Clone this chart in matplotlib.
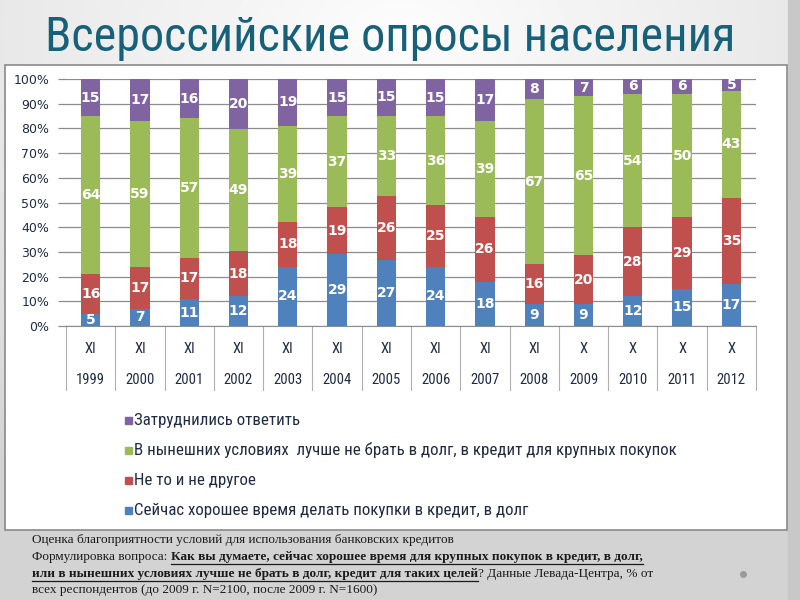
import matplotlib.pyplot as plt
import matplotlib.patches as patches
from matplotlib import font_manager
import numpy as np

years = ["1999", "2000", "2001", "2002", "2003", "2004", "2005",
         "2006", "2007", "2008", "2009", "2010", "2011", "2012"]
months = ["XI", "XI", "XI", "XI", "XI", "XI", "XI",
          "XI", "XI", "XI", "X", "X", "X", "X"]

good_time = [5, 7, 11, 12, 24, 29, 27, 24, 18, 9, 9, 12, 15, 17]
neither = [16, 17, 17, 18, 18, 19, 26, 25, 26, 16, 20, 28, 29, 35]
better_not = [64, 59, 57, 49, 39, 37, 33, 36, 39, 67, 65, 54, 50, 43]
hard_to_say = [15, 17, 16, 20, 19, 15, 15, 15, 17, 8, 7, 6, 6, 5]

series_names = [
    "Сейчас хорошее время делать покупки в кредит, в долг",
    "Не то и не другое",
    "В нынешних условиях  лучше не брать в долг, в кредит для крупных покупок",
    "Затруднились ответить",
]
colors = ["#4F81BD", "#C0504D", "#9BBB59", "#8064A2"]


def pick_narrow_font():
    # look for any condensed sans face; fall back to DejaVu Sans
    names = ["Liberation Sans Narrow", "Roboto Condensed", "DejaVu Sans Condensed",
             "Open Sans Condensed", "Noto Sans Condensed"]
    flist = font_manager.fontManager.ttflist
    for n in names:
        for f in flist:
            if f.name == n and f.weight in (400, "normal", "regular") and f.style == "normal":
                return font_manager.FontProperties(fname=f.fname)
    for f in flist:
        if f.name in ("Noto Sans", "Roboto", "Open Sans", "DejaVu Sans") \
                and str(f.stretch) in ("condensed", "semi-condensed") \
                and f.style == "normal" and f.weight in (400, "normal", "regular"):
            return font_manager.FontProperties(fname=f.fname)
    return font_manager.FontProperties(family="DejaVu Sans")


narrow = pick_narrow_font()

W, H = 800, 600
fig = plt.figure(figsize=(8, 6), dpi=100)

# slide background
bg = fig.add_axes([0, 0, 1, 1])
yy, xx = np.mgrid[0:1:200j, 0:1:200j]
r = np.sqrt(((xx - 0.5) * 1.0) ** 2 + ((yy - 0.05) * 1.2) ** 2)
shade = 0.99 - 0.16 * np.clip(r, 0, 1)
bg.imshow(shade, cmap="gray", vmin=0, vmax=1, extent=[0, 1, 1, 0], aspect="auto")
bg.set_xlim(0, 1)
bg.set_ylim(1, 0)
bg.axis("off")
bg.add_patch(patches.Rectangle((788 / W, 0), 12 / W, 1, color="#c8c8c8", zorder=2))

# chart box
bg.add_patch(patches.Rectangle((5 / W, 65 / H), 782 / W, 465 / H, facecolor="white",
                               edgecolor="#8a8a8a", lw=1.2, zorder=3))

fig.canvas.draw()
renderer = fig.canvas.get_renderer()


def fit_width(t, target):
    w = t.get_window_extent(renderer).width
    t.set_fontsize(t.get_fontsize() * target / w)
    return t.get_fontsize()


title = fig.text(45 / W, 1 - 38 / H, "Всероссийские опросы населения",
                 color="#17607A", va="center", ha="left", fontproperties=narrow)
title.set_fontsize(33)
fit_width(title, 690)

# plot
ax = fig.add_axes([66 / W, 1 - 326 / H, 690 / W, 247 / H])
data = np.array([good_time, neither, better_not, hard_to_say], dtype=float)
pct = data / data.sum(axis=0) * 100
x = np.arange(len(years))
bottom = np.zeros(len(years))
for vals, raw, c in zip(pct, data, colors):
    ax.bar(x, vals, 0.39, bottom=bottom, color=c, zorder=3)
    for xi, b, v, rv in zip(x, bottom, vals, raw):
        ax.text(xi, b + v / 2, f"{int(rv)}", ha="center", va="center", color="white",
                fontsize=10, fontweight="bold", zorder=4)
    bottom += vals

ax.set_xlim(-0.5, len(years) - 0.5)
ax.set_ylim(0, 100)
ax.set_yticks(np.arange(0, 101, 10))
ax.set_yticklabels([f"{v}%" for v in range(0, 101, 10)], fontsize=9, color="#1F2B44")
ax.yaxis.grid(True, color="#8c8c8c", lw=0.9, zorder=0)
ax.tick_params(axis="y", length=6, color="#8c8c8c", width=0.9, pad=6)
ax.tick_params(axis="x", length=0, labelbottom=False)
for s in ["top", "right", "left"]:
    ax.spines[s].set_visible(False)
ax.spines["bottom"].set_color("#8c8c8c")

# two-row category labels with separators
for i in range(len(years) + 1):
    ax.plot([i - 0.5, i - 0.5], [0, -26], color="#b0b0b0", lw=0.8, clip_on=False)
for i, (m, y) in enumerate(zip(months, years)):
    for yv, s in ((-9.5, m), (-22, y)):
        t = ax.text(i, yv, s, ha="center", va="center", color="#1F2B44",
                    fontproperties=narrow)
        t.set_fontsize(10.5)

# legend (top to bottom: reversed series)
leg_y = [420, 450, 480, 510]
leg_texts = []
for yy_, name, c in zip(leg_y, series_names[::-1], colors[::-1]):
    bg.add_patch(patches.Rectangle((125 / W, (yy_ - 3.5) / H), 7 / W, 7 / H,
                                   color=c, zorder=4))
    t = bg.text(134 / W, yy_ / H, name, va="center", ha="left",
                color="#1F2B44", zorder=4, fontproperties=narrow)
    t.set_fontsize(11)
    leg_texts.append(t)
size = min(13, fit_width(leg_texts[1], 541))
for t in leg_texts:
    t.set_fontsize(size)

# footer
serif = ["Liberation Serif", "DejaVu Serif"]
fcol = "#1a1a1a"
fig.text(32 / W, 1 - 540 / H, "Оценка благоприятности условий для использования банковских кредитов",
         fontsize=9.5, family=serif, color=fcol, va="center")


def underlined(x0, ypix, s):
    t = fig.text(x0, 1 - ypix / H, s, fontsize=9.5, family=serif, color=fcol,
                 fontweight="bold", va="center")
    bb = t.get_window_extent(renderer)
    bg.plot([bb.x0 / W, bb.x1 / W], [(ypix + 7) / H] * 2, color=fcol, lw=0.9, zorder=5)
    return bb.x1


t = fig.text(32 / W, 1 - 557 / H, "Формулировка вопроса: ", fontsize=9.5, family=serif,
             color=fcol, va="center")
x1 = t.get_window_extent(renderer).x1
underlined(x1 / W, 557, "Как вы думаете, сейчас хорошее время для крупных покупок в кредит, в долг,")
x2 = underlined(32 / W, 574, "или в нынешних условиях лучше не брать в долг, кредит для таких целей")
fig.text(x2 / W, 1 - 574 / H, "? Данные Левада-Центра, % от", fontsize=9.5, family=serif,
         color=fcol, va="center")
fig.text(32 / W, 1 - 590 / H, "всех респондентов (до 2009 г. N=2100, после 2009 г. N=1600)",
         fontsize=9.5, family=serif, color=fcol, va="center")
bg.plot([743 / W], [574 / H], "o", color="#9a9a9a", ms=4, zorder=5)

fig.savefig("out.png", dpi=100)
